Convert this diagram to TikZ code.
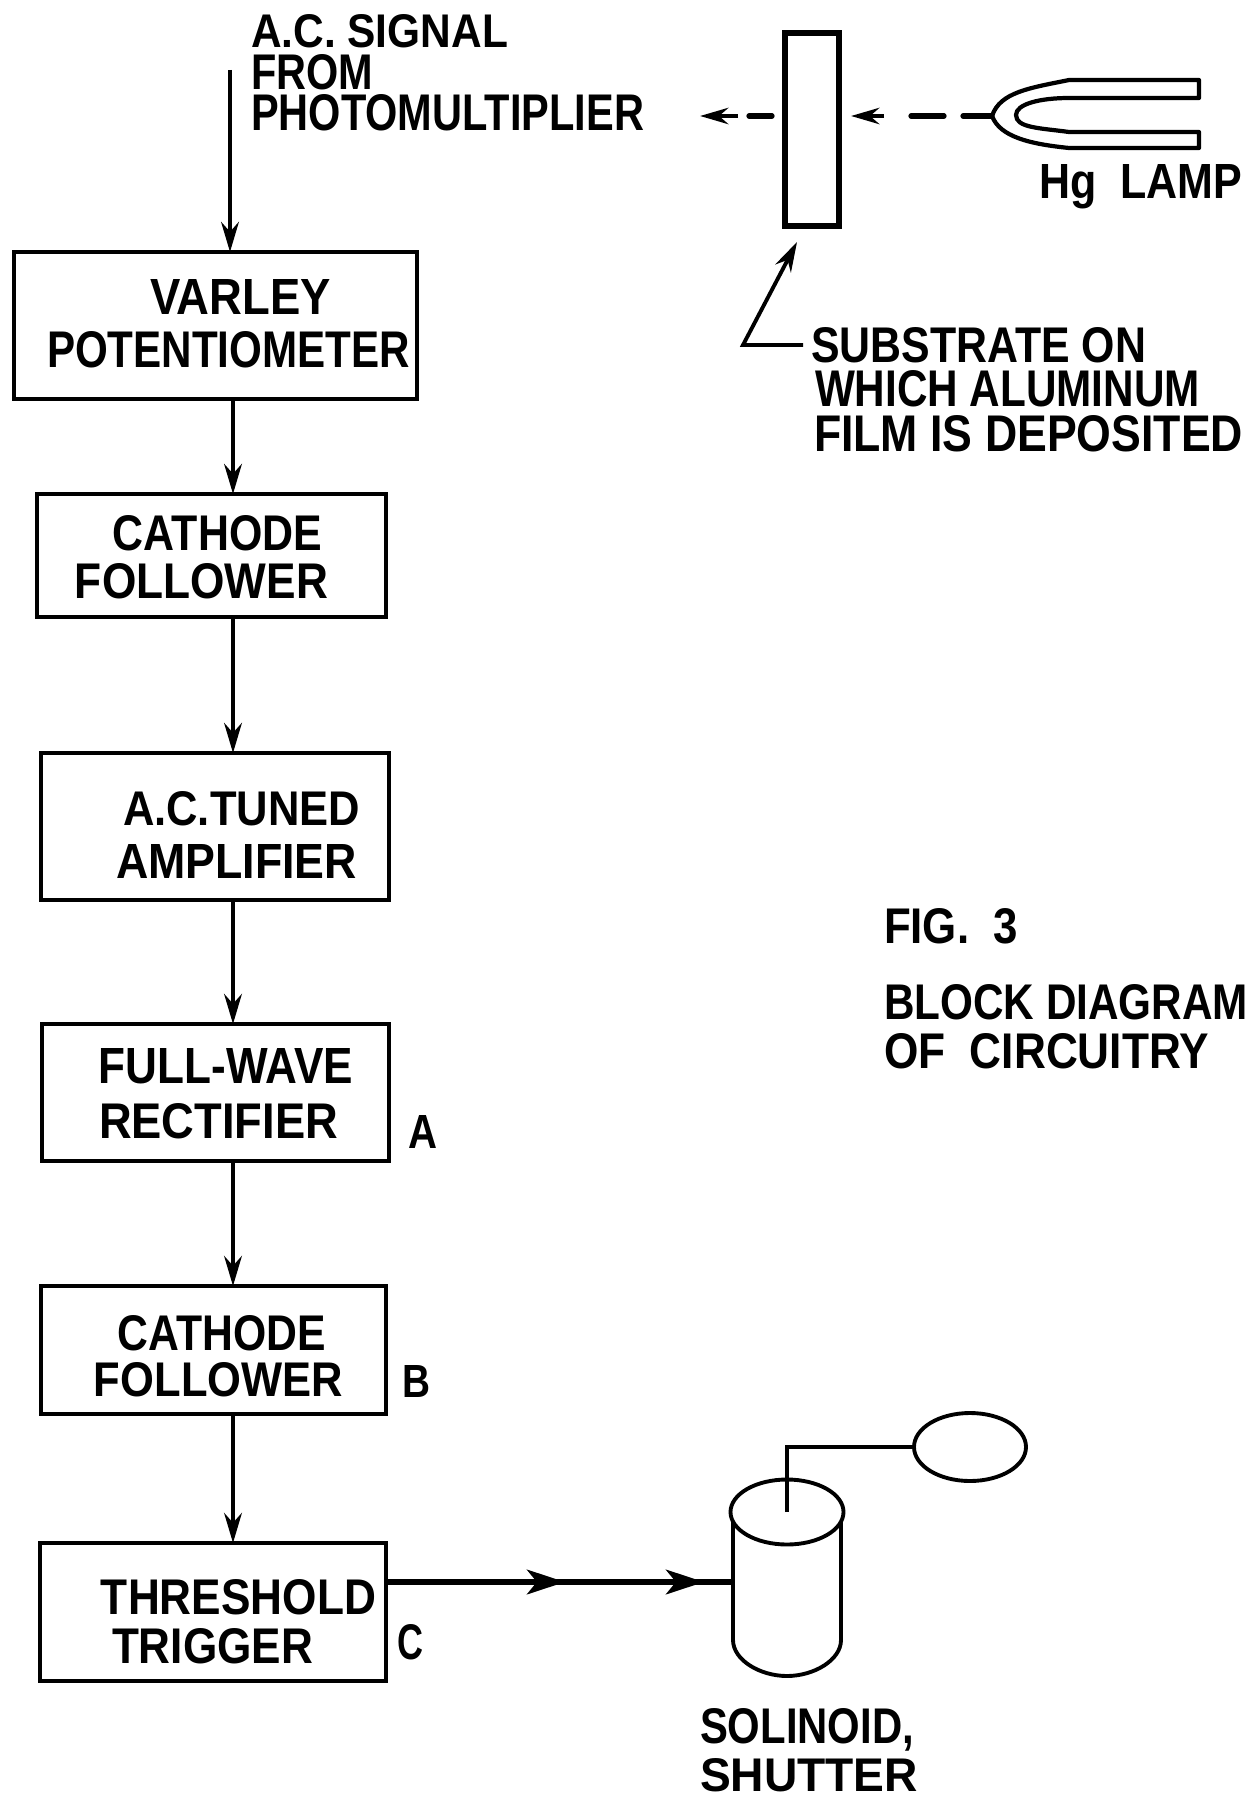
\documentclass[tikz,border=0pt]{standalone}
\usepackage{graphicx}
\usepackage{fontspec}
\setmainfont{Liberation Sans}
\usetikzlibrary{arrows.meta,shapes.geometric}
\newlength{\pxu}
\setlength{\pxu}{0.01cm}
% one printed line of text: width and cap height in pixels
\newcommand{\txl}[3]{\resizebox{#1\pxu}{#2\pxu}{\bfseries #3}}
% block of lines inside a W x H frame
\newcommand{\blocktext}[3]{\vbox to #2\pxu{\offinterlineskip\def\bw{#1}#3\vfil}}
% line: dy above, dx from left, width, height, text
\newcommand{\tline}[5]{\vskip #1\pxu\hbox to \bw\pxu{\hskip #2\pxu\txl{#3}{#4}{#5}\hfil}}
\tikzset{
  blockbox/.style={draw,line width=1.3pt,inner sep=0pt,outer sep=0pt,anchor=north west},
  freetext/.style={inner sep=0pt,outer sep=0pt,anchor=north west},
  flow/.style={line width=1.3pt,-{Stealth[length=8.5pt,width=5pt]}},
  heavytip/.style={line width=1.5pt,-{Stealth[length=10.8pt,width=7pt,inset=2.8pt]}},
  plainline/.style={line width=1pt},
  dashpiece/.style={line width=1.5pt,line cap=round},
  dasharrow/.style={line width=1.4pt,-{Stealth[length=8pt,width=4.6pt]}},
  thinshape/.style={draw,line width=1.1pt,inner sep=0pt,outer sep=0pt},
}
\begin{document}
\begin{tikzpicture}[x=0.01cm,y=-0.01cm]
\useasboundingbox (0,0) rectangle (1253,1797);
\fill[white] (0,0) rectangle (1253,1797);

% blocks
\node[blockbox] (b1) at (14,252) {\blocktext{403}{147}{%
  \tline{27}{136}{181}{35}{VARLEY}\tline{17}{33}{363}{36}{POTENTIOMETER}}};
\node[blockbox] (b2) at (37,494) {\blocktext{349}{123}{%
  \tline{21}{76}{209}{35}{CATHODE}\tline{13}{38}{253}{35}{FOLLOWER}}};
\node[blockbox] (b3) at (41,753) {\blocktext{348}{147}{%
  \tline{38}{82}{237}{34}{A.C.TUNED}\tline{19}{75}{241}{34}{AMPLIFIER}}};
\node[blockbox] (b4) at (42,1024) {\blocktext{347}{137}{%
  \tline{24}{57}{254}{35}{FULL-WAVE}\tline{20}{57}{239}{35}{RECTIFIER}}};
\node[blockbox] (b5) at (41,1286) {\blocktext{345}{128}{%
  \tline{29}{77}{208}{35}{CATHODE}\tline{12}{53}{249}{34}{FOLLOWER}}};
\node[blockbox] (b6) at (40,1543) {\blocktext{346}{138}{%
  \tline{36}{61}{275}{35}{THRESHOLD}\tline{14}{72}{201}{35}{TRIGGER}}};

% side letters
\node[freetext] (la) at (408,1115) {\txl{29}{33}{A}};
\node[freetext] (lb) at (402,1365) {\txl{28}{32}{B}};
\node[freetext] (lc) at (397,1624) {\txl{26}{35}{C}};

% vertical flow
\coordinate (vx) at (233,0);
\coordinate (in) at (230,70);
\draw[flow] (in) -- (b1.north -| in);
\draw[flow] (b1.south -| vx) -- (b2.north -| vx);
\draw[flow] (b2.south -| vx) -- (b3.north -| vx);
\draw[flow] (b3.south -| vx) -- (b4.north -| vx);
\draw[flow] (b4.south -| vx) -- (b5.north -| vx);
\draw[flow] (b5.south -| vx) -- (b6.north -| vx);

% input label
\node[freetext] (sig) at (251,15) {\blocktext{393}{115}{%
  \tline{0}{0}{257}{33}{A.C. SIGNAL}\tline{6}{0}{122}{35}{FROM}\tline{5}{0}{393}{36}{PHOTOMULTIPLIER}}};

% substrate
\node[blockbox,line width=1.6pt,minimum width=54\pxu,minimum height=193\pxu] (sub) at (785,33) {};
\coordinate (la1) at (738,116); \coordinate (la2) at (700,116);
\coordinate (ld1) at (772,116); \coordinate (ld2) at (749,116);
\draw[dasharrow] (la1) -- (la2);
\draw[dashpiece] (ld1) -- (ld2);
\coordinate (ra1) at (884,116); \coordinate (ra2) at (851,116);
\coordinate (rd1) at (944,116); \coordinate (rd2) at (911,116);
\draw[dasharrow] (ra1) -- (ra2);
\draw[dashpiece] (rd1) -- (rd2);

% lamp
\coordinate (lampnose) at (992,116);
\coordinate (stem) at (963,116);
\draw[dashpiece] (stem) -- (lampnose);
\draw[line width=1.2pt,line join=round]
  (1199,98) -- (1199,80) -- (1069,80) .. controls (1030,88) and (1000,92) .. (lampnose)
  .. controls (1000,137) and (1030,144) .. (1069,148) -- (1199,148) -- (1199,132) -- (1069,132)
  .. controls (1040,128) and (1016,128) .. (1016,115)
  .. controls (1016,104) and (1040,98) .. (1069,98) -- cycle;
\node[freetext] (hg) at (1039,164) {\txl{203}{34}{Hg\ \ LAMP}};

% pointer
\node[freetext] (st) at (811,327) {\blocktext{432}{124}{%
  \tline{0}{0}{335}{35}{SUBSTRATE ON}\tline{8}{4}{385}{36}{WHICH ALUMINUM}\tline{9}{3}{429}{36}{FILM IS DEPOSITED}}};
\coordinate (ptelbow) at (743,345);
\coordinate (ptend) at (803,345);
\coordinate (pttip) at (797,242);
\draw[line width=1.1pt,-{Stealth[length=8.5pt,width=5pt]}] (ptend) -- (ptelbow) -- (pttip);

% figure caption
\node[freetext] (fig) at (884,908) {\txl{134}{35}{FIG.\ \ 3}};
\node[freetext] (cap) at (884,984) {\blocktext{364}{84}{%
  \tline{0}{0}{364}{35}{BLOCK DIAGRAM}\tline{14}{0}{325}{35}{OF\ \ CIRCUITRY}}};

% solenoid
\draw[line width=1.1pt] (733,1512) -- (733,1640) .. controls (733,1660) and (760,1676) .. (787,1676)
  .. controls (814,1676) and (841,1660) .. (841,1640) -- (841,1512);
\node[thinshape,ellipse,fill=white,minimum width=113\pxu,minimum height=65\pxu] (cyl) at (787,1512) {};
\node[thinshape,ellipse,minimum width=112\pxu,minimum height=68\pxu] (shut) at (970,1447) {};
\coordinate (wirein) at (787,1512);
\coordinate (wirebend) at (787,1447);
\draw[plainline] (wirein) -- (wirebend) -- (shut.west);

% output flow
\coordinate (o0) at (386,1582);
\coordinate (o1) at (565,1582);
\coordinate (o2) at (704,1582);
\coordinate (o3) at (733,1582);
\draw[line width=1.5pt] (o0 -| b6.east) -- (o3);
\draw[heavytip] (o0 -| b6.east) -- (o1);
\draw[heavytip] (o1) -- (o2);

\node[freetext] (sol) at (700,1708) {\blocktext{220}{84}{%
  \tline{0}{0}{214}{35}{SOLINOID,}\tline{8}{0}{218}{33}{SHUTTER}}};
\end{tikzpicture}
\end{document}
